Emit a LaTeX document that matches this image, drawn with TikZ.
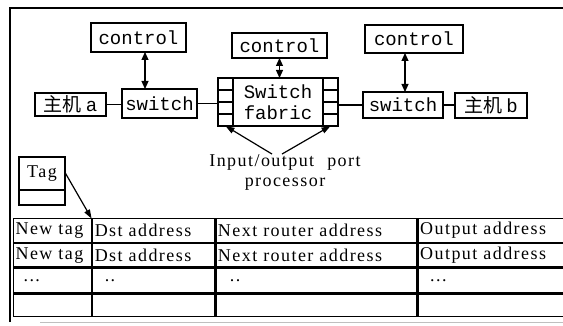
\documentclass[tikz,border=0pt]{standalone}
\usepackage{fontspec}
\setmainfont{Liberation Serif}
\newfontfamily\monofont{Liberation Mono}
\newfontfamily\cjkfont{Noto Sans CJK SC}
\newfontfamily\spacedserif[LetterSpace=8,WordSpace=2.2]{Liberation Serif}
\usetikzlibrary{arrows.meta, matrix}

\begin{document}
\begin{tikzpicture}[x=1pt, y=-1pt, line width=1.2pt,
  box/.style={draw, inner sep=0pt, outer sep=0pt, font=\monofont\fontsize{19}{21}\selectfont},
  port/.style={draw, inner sep=0pt, outer sep=0pt, minimum width=15pt, minimum height=12pt},
  lbl/.style={font=\spacedserif\fontsize{18}{20}\selectfont, inner sep=0pt},
  dblarrow/.style={{Triangle[length=8pt,width=7pt]}-{Triangle[length=8pt,width=7pt]}},
  ptr/.style={-{Triangle[length=9pt,width=6pt]}},
  cell/.style={draw, lbl, inner xsep=2pt, inner ysep=0pt, outer sep=0pt, align=left, anchor=center},
]
\useasboundingbox (0,0) rectangle (563,326);

% page frame
\draw (10,322) -- (10,8) -- (563,8);
\draw[gray!50, line width=0.8pt] (40,322) -- (563,322);

% control units
\node[box, minimum width=95pt, minimum height=29pt] (ctlA) at (138.5,37.5) {control};
\node[box, minimum width=95pt, minimum height=25pt] (ctlF) at (279.5,45.5) {control};
\node[box, minimum width=98pt, minimum height=28pt] (ctlB) at (414,39) {control};

% hosts and switches
\node[box, minimum width=71pt, minimum height=23pt] (hostA) at (70.5,104.5) {{\cjkfont 主机}\hspace{4pt}a};
\node[box, minimum width=75pt, minimum height=29pt] (swA) at (159.5,103.5) {switch};
\node[box, minimum width=80pt, minimum height=26pt] (swB) at (403,105) {switch};
\node[box, minimum width=72pt, minimum height=25pt] (hostB) at (491,105.5) {{\cjkfont 主机}\hspace{4pt}b};

% switch fabric with its port processors
\node[box, minimum width=90pt, minimum height=48pt, align=center,
      font=\monofont\fontsize{19}{21}\selectfont] (fab) at (278,102) {Switch\\fabric};
\foreach \i in {1,...,4} {
  \node[port] (pl\i) at (225.5,{72+12*\i}) {};
  \node[port] (pr\i) at (330.5,{72+12*\i}) {};
}

% links
\draw (hostA.east) -- (hostA.east -| swA.west);
\draw (swA.east) -- (swA.east -| pl3.west);
\draw (pr3.east |- swB.west) -- (swB.west);
\draw (swB.east) -- (swB.east -| hostB.west);

% control channels
\draw[dblarrow] ([xshift=6.5pt]ctlA.south) -- ([xshift=6.5pt]ctlA.south |- swA.north);
\draw[dblarrow] (ctlF.south) -- (ctlF.south |- fab.north);
\draw[dblarrow] ([xshift=2pt]swB.north |- ctlB.south) -- ([xshift=2pt]swB.north);

% port processor label
\node[lbl, align=center] (io) at (285,172.5) {Input/output port\\processor};
\draw[ptr] ([xshift=-13pt]io.north) -- (pl4.south);
\draw[ptr] ([xshift=-3pt]io.north) -- (pr4.south);

% tag field
\node[draw, lbl, minimum width=46pt, minimum height=33pt] (tag) at (42,173.5) {Tag};
\node[draw, minimum width=46pt, minimum height=15pt, inner sep=0pt] (tagb) at (42,197.5) {};

% forwarding table
\matrix (tbl) [matrix of nodes, anchor=north west, inner sep=0pt, outer sep=0pt,
  column sep=0pt, row sep=0pt, nodes={cell},
  column 1/.style={nodes={text width=74pt}},
  column 2/.style={nodes={text width=118pt}},
  column 3/.style={nodes={text width=197pt}},
  column 4/.style={nodes={text width=141pt}},
  row 1/.style={nodes={minimum height=24pt}},
  row 2/.style={nodes={minimum height=23pt}},
  row 3/.style={nodes={minimum height=25pt}},
  row 4/.style={nodes={minimum height=22pt}},
] at (13,218) {
  \mbox{New tag} & \mbox{Dst address} & \mbox{Next router address} & \mbox{Output address} \\
  \mbox{New tag} & \mbox{Dst address} & \mbox{Next router address} & \mbox{Output address} \\
  \hspace{8pt}... & \hspace{10pt}.. & \hspace{12pt}.. & \hspace{10pt}... \\
  {} & {} & {} & {} \\
};

\draw[ptr] (tag.east) -- (tbl-1-1.north east);
\end{tikzpicture}
\end{document}
